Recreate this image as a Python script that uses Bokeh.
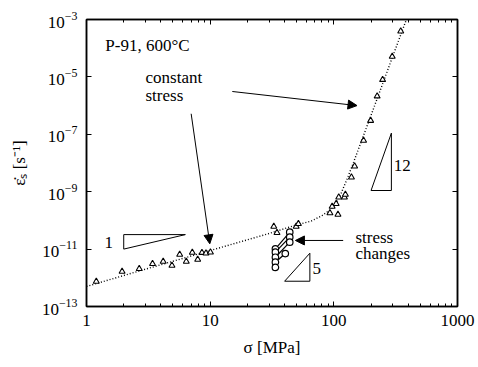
from bokeh.plotting import figure
from bokeh.models import (FixedTicker, LogAxis, BasicTickFormatter, LogTickFormatter,
                          Arrow, NormalHead, Range1d, Label)
from bokeh.embed import file_html
from bokeh.resources import INLINE

FONT = "Liberation Serif, Times New Roman, Times, serif"

# constant-stress creep tests (open triangles)
sigma_const = [1.20, 1.94, 2.67, 3.42, 4.17, 4.91, 5.67, 6.41, 7.17, 7.93, 8.58, 9.25, 10.05,
               32.7, 34.7, 49.6, 51.7, 93, 96.9, 108, 104.4, 109.6, 121.8, 124, 138.8, 147.3,
               174, 198.4, 224, 248, 296.6, 347.5]
rate_const = [7.4e-13, 1.66e-12, 2.06e-12, 3.08e-12, 3.70e-12, 2.69e-12, 6.49e-12, 3.70e-12,
              7.6e-12, 4.35e-12, 7.5e-12, 7.2e-12, 7.8e-12,
              6.1e-11, 3.7e-11, 6.1e-11, 7.6e-11, 1.81e-10, 3.05e-10, 1.61e-10, 3.8e-10,
              6.4e-10, 6.4e-10, 8.0e-10, 3.2e-9, 7.7e-9, 6.1e-8, 3.0e-7, 2.13e-6, 8.0e-6,
              5.1e-5, 3.9e-4]

# model curve (dotted)
fit_sigma = [1, 3, 10, 30, 50, 65, 80, 95, 105, 115, 130, 146.5, 200, 300, 400]
fit_rate = [5.0e-13, 2.0e-12, 8.9e-12, 3.5e-11, 7.0e-11, 9.3e-11, 1.45e-10, 2.45e-10,
            4.2e-10, 9.2e-10, 3.26e-9, 1.25e-8, 4.6e-7, 5.3e-5, 1.5e-3]

# stress-change tests (open circles joined in pairs)
sc_sigma_start = [33.7, 33.7, 33.7, 33.7]
sc_rate_start = [1.02e-11, 7.8e-12, 5.2e-12, 3.5e-12]
sc_sigma_end = [44.0, 44.0, 44.0, 40.5]
sc_rate_end = [3.9e-11, 2.6e-11, 1.74e-11, 7.0e-12]
sc_sigma_single = [33.7]
sc_rate_single = [2.3e-12]

# slope triangles
tri1_x = [2.0, 6.3, 2.0]
tri1_y = [1.0e-11, 3.2e-11, 3.2e-11]
tri5_x = [40.0, 64.0, 64.0]
tri5_y = [7.6e-13, 7.2e-12, 7.6e-13]
tri12_x = [200.0, 292.0, 292.0]
tri12_y = [1.1e-9, 1.1e-7, 1.1e-9]

# arrows: (x_start, y_start, x_end, y_end)
arrows = [
    (15.1, 3.1e-6, 154.0, 1.0e-6),
    (7.02, 5.2e-7, 9.93, 1.53e-11),
    (119.0, 2.0e-11, 48.9, 2.0e-11),
]

# texts: (x, y, text, align)
texts = [
    (1.42, 1.24e-4, "P-91, 600°C", "left"),
    (3.0, 9.5e-6, "constant", "left"),
    (3.0, 2.25e-6, "stress", "left"),
    (149.5, 2.6e-11, "stress", "left"),
    (149.5, 7.2e-12, "changes", "left"),
    (1.51, 1.74e-11, "1", "center"),
    (67.1, 2.1e-12, "5", "left"),
    (305.0, 8.2e-9, "12", "left"),
]

x_major = [1, 10, 100, 1000]
x_minor = [m * d for d in (1, 10, 100) for m in range(2, 10)]
y_major = [1e-13, 1e-11, 1e-9, 1e-7, 1e-5, 1e-3]

p = figure(width=476, height=365, x_axis_type="log", y_axis_type="log",
           x_range=Range1d(1, 1000), y_range=Range1d(1e-13, 1e-3),
           output_backend="svg", toolbar_location=None,
           min_border_left=86, min_border_right=19, min_border_top=19, min_border_bottom=59,
           background_fill_color="white", border_fill_color="white")
p.grid.visible = False
p.outline_line_color = "black"
p.outline_line_width = 1.5

xt = FixedTicker(ticks=x_major, minor_ticks=x_minor)
yt = FixedTicker(ticks=y_major, minor_ticks=[])

def style(ax):
    ax.axis_line_color = "black"
    ax.axis_line_width = 1.5
    ax.major_tick_in = 5
    ax.major_tick_out = 0
    ax.minor_tick_in = 3
    ax.minor_tick_out = 0
    ax.major_tick_line_color = "black"
    ax.minor_tick_line_color = "black"
    ax.major_label_text_font = FONT
    ax.major_label_text_font_size = "17px"
    ax.major_label_text_color = "black"
    ax.axis_label_text_font = FONT
    ax.axis_label_text_font_size = "17px"
    ax.axis_label_text_font_style = "normal"
    ax.axis_label_text_color = "black"

xa = p.xaxis[0]
xa.ticker = xt
xa.formatter = BasicTickFormatter()
xa.axis_label = "σ [MPa]"
style(xa)
xa.major_label_standoff = 8
xa.axis_label_standoff = 9

ya = p.yaxis[0]
ya.ticker = yt
ya.formatter = LogTickFormatter()
ya.axis_label = "ε̇ₛ [s⁻¹]"
style(ya)
ya.major_label_standoff = 9
ya.axis_label_standoff = 10

top = LogAxis(ticker=xt, formatter=BasicTickFormatter())
style(top)
top.major_label_text_font_size = "1px"
top.major_label_text_color = None
top.major_label_standoff = 0
p.add_layout(top, "above")

right = LogAxis(ticker=yt, formatter=BasicTickFormatter())
style(right)
right.major_label_text_font_size = "1px"
right.major_label_text_color = None
right.major_label_standoff = 0
p.add_layout(right, "right")

# model curve
p.line(fit_sigma, fit_rate, line_color="black", line_width=1.4, line_dash="1 2")

# slope triangles
for tx, ty in ((tri1_x, tri1_y), (tri5_x, tri5_y), (tri12_x, tri12_y)):
    p.patch(tx, ty, fill_color=None, line_color="black", line_width=1)

# stress-change segments and circles
p.multi_line([[a, b] for a, b in zip(sc_sigma_start, sc_sigma_end)],
             [[a, b] for a, b in zip(sc_rate_start, sc_rate_end)],
             line_color="black", line_width=1.2)
p.scatter(sc_sigma_start + sc_sigma_end + sc_sigma_single,
          sc_rate_start + sc_rate_end + sc_rate_single,
          marker="circle", size=6.5, fill_color="white", line_color="black", line_width=1.2)

# constant stress triangles
p.scatter(sigma_const, rate_const, marker="triangle", size=6,
          fill_color="white", line_color="black", line_width=1.1)

for xs, ys, xe, ye in arrows:
    p.add_layout(Arrow(end=NormalHead(size=9, fill_color="black", line_color="black", line_width=1),
                       x_start=xs, y_start=ys, x_end=xe, y_end=ye,
                       line_color="black", line_width=1))

for x, y, t, al in texts:
    p.add_layout(Label(x=x, y=y, text=t, text_font=FONT, text_font_size="17px",
                       text_baseline="middle", text_align=al, text_color="black"))

open("out.html", "w").write(file_html(p, INLINE))
